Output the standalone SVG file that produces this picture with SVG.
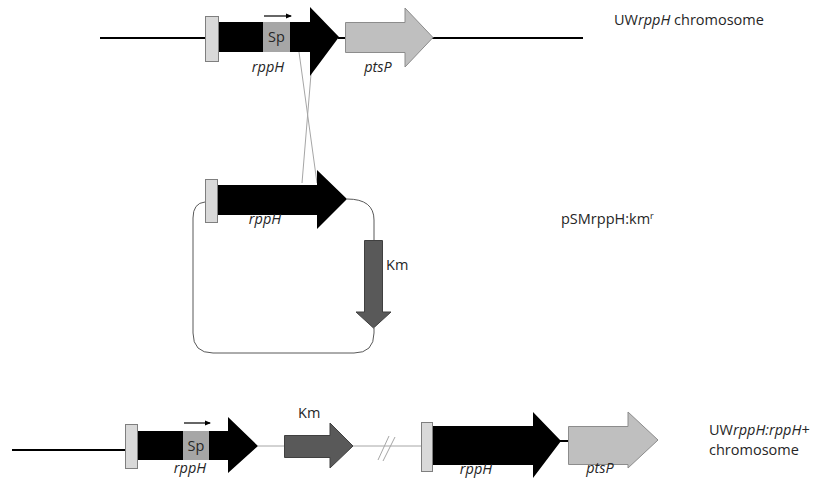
<svg xmlns="http://www.w3.org/2000/svg" width="817" height="478" viewBox="0 0 817 478">
<style>
text{font-family:"Open Sans","Liberation Sans",sans-serif;font-size:14.5px;fill:#262626}
.it{font-style:italic}
.chrom{stroke:#000;stroke-width:2;fill:none}
.thin{stroke:#a6a6a6;stroke-width:1;fill:none}
.loop{stroke:#595959;stroke-width:1;fill:none}
.rppH{fill:#000}
.box{fill:#d9d9d9;stroke:#7f7f7f;stroke-width:1}
.sp{fill:#a6a6a6}
.pts{fill:#bfbfbf;stroke:#8c8c8c;stroke-width:1}
.km{fill:#595959;stroke:#404040;stroke-width:1}
</style>
<defs>
<marker id="ah" markerWidth="6" markerHeight="6" refX="5" refY="3" orient="auto" markerUnits="userSpaceOnUse">
<path d="M0,0.5 L6,3 L0,5.5 Z" fill="#000"/>
</marker>
</defs>
<g id="connectors">
<line class="chrom" x1="100" y1="38" x2="206" y2="38"/>
<line class="chrom" x1="338" y1="38" x2="346" y2="38"/>
<line class="chrom" x1="432" y1="38" x2="583" y2="38"/>
<line class="thin" x1="299" y1="52" x2="317" y2="183"/>
<line class="thin" x1="312" y1="62" x2="302" y2="183"/>
<path class="loop" d="M205,202 Q193,203 193,218 L193,333 Q193,353 213,353 L354,353 Q374,353 374,333 L374,328"/>
<path class="loop" d="M347,199 Q374,199 374,220 L374,240"/>
<line class="chrom" x1="12" y1="450" x2="126" y2="450"/>
<line class="thin" x1="258" y1="446" x2="284" y2="446"/>
<line class="thin" x1="353" y1="446" x2="421" y2="446"/>
<line class="thin" x1="378" y1="460" x2="389" y2="436"/>
<line class="thin" x1="383" y1="461" x2="395" y2="437"/>
<line class="chrom" x1="560" y1="441" x2="569" y2="441"/>
</g>
<g id="top-rppH">
<rect class="box" x="205.5" y="16.5" width="13" height="45"/>
<path class="rppH" d="M219,22 L310,22 L310,7 L339,37 L310,76 L310,52 L219,52 Z"/>
<rect class="sp" x="263" y="22" width="27" height="30"/>
<text x="276.5" y="42" text-anchor="middle">Sp</text>
<line x1="264" y1="16" x2="291" y2="16" stroke="#000" stroke-width="1.2" marker-end="url(#ah)"/>
<text class="it" x="268" y="72" text-anchor="middle">rppH</text>
</g>
<g id="top-ptsP">
<path class="pts" d="M345.5,22.5 L405,22.5 L405,8 L433,37.5 L405,67 L405,52.5 L345.5,52.5 Z"/>
<text class="it" x="378" y="72" text-anchor="middle">ptsP</text>
</g>
<g id="label-top">
<text x="614" y="25">UW<tspan class="it">rppH</tspan> chromosome</text>
</g>
<g id="plasmid-rppH">
<rect class="box" x="205.5" y="179.5" width="12" height="43"/>
<path class="rppH" d="M218,185 L317,185 L317,170 L347,199 L317,229 L317,215 L218,215 Z"/>
<text class="it" x="265" y="224" text-anchor="middle">rppH</text>
</g>
<g id="plasmid-Km">
<path class="km" d="M364.5,240.5 L382.5,240.5 L382.5,312 L391,312 L373.5,328 L356,312 L364.5,312 Z"/>
<text x="386" y="270">Km</text>
</g>
<g id="label-plasmid">
<text x="561" y="224">pSMrppH:km<tspan font-size="9" dy="-5">r</tspan></text>
</g>
<g id="bottom-rppH">
<rect class="box" x="125.5" y="424.5" width="12" height="44"/>
<path class="rppH" d="M138,431 L228,431 L228,417 L258,446 L228,473 L228,460 L138,460 Z"/>
<rect class="sp" x="183" y="431" width="26" height="29"/>
<text x="196" y="451" text-anchor="middle">Sp</text>
<line x1="184" y1="423" x2="210" y2="423" stroke="#000" stroke-width="1.2" marker-end="url(#ah)"/>
<text class="it" x="190" y="473" text-anchor="middle">rppH</text>
</g>
<g id="bottom-Km">
<path class="km" d="M284.5,435.5 L330,435.5 L330,423 L353,446 L330,468 L330,457.5 L284.5,457.5 Z"/>
<text x="298" y="418">Km</text>
</g>
<g id="bottom-rppH2">
<rect class="box" x="421.5" y="422.5" width="11" height="49"/>
<path class="rppH" d="M433,426 L533,426 L533,412 L561,441 L533,478 L533,465 L433,465 Z"/>
<text class="it" x="476" y="474" text-anchor="middle">rppH</text>
</g>
<g id="bottom-ptsP">
<path class="pts" d="M568.5,426.5 L628,426.5 L628,412 L658,440 L628,468 L628,464.5 L568.5,464.5 Z"/>
<text class="it" x="600" y="473" text-anchor="middle">ptsP</text>
</g>
<g id="label-bottom">
<text x="709" y="435">UW<tspan class="it">rppH:rppH+</tspan></text>
<text x="709" y="455">chromosome</text>
</g>
</svg>
